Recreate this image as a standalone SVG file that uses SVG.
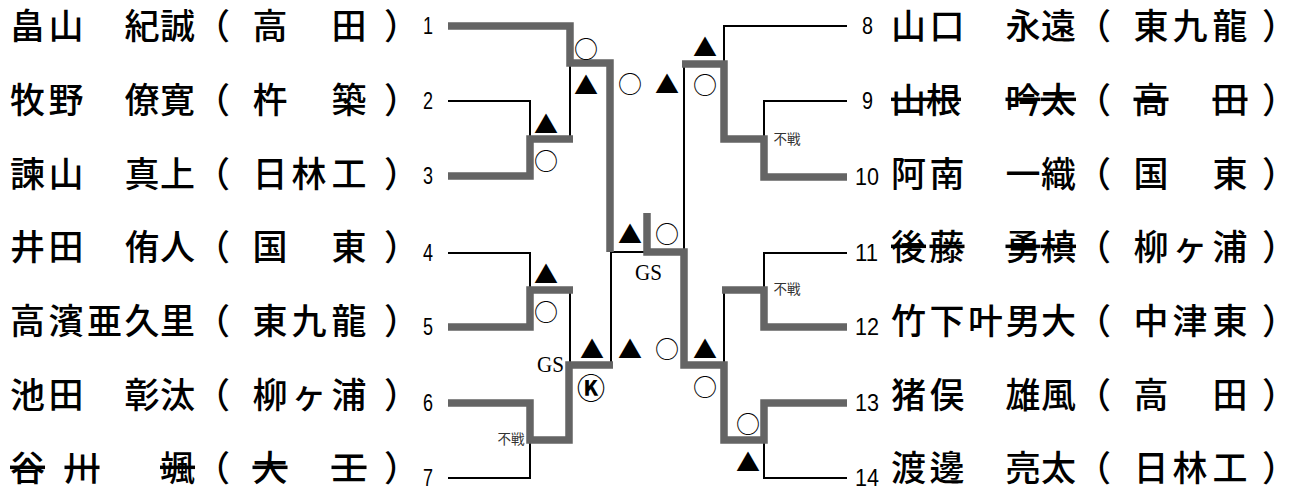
<svg xmlns="http://www.w3.org/2000/svg" width="1298" height="497" viewBox="0 0 1298 497">
<style>
.nm{font-family:"Noto Sans CJK JP","Noto Sans CJK SC",sans-serif;font-size:35px;font-weight:500;fill:#000}
.s{text-decoration:line-through}
.no{font-family:"Liberation Sans",Arial,sans-serif;font-size:23px;fill:#000}
.w{fill:none;stroke:#646464;stroke-width:7.5;stroke-linejoin:miter}
.l{fill:none;stroke:#000;stroke-width:2}
.mk{font-family:"Noto Sans CJK JP",sans-serif;font-size:24px;text-anchor:middle;dominant-baseline:central;fill:#000}
.gs{font-family:"Liberation Serif","Times New Roman",serif;font-size:23px;fill:#000}
.fs{font-family:"Noto Sans CJK JP",sans-serif;font-size:13.5px;fill:#333;text-anchor:middle}
</style>
<rect width="1298" height="497" fill="#fff"/>

<g id="connectors">
<path class="l" d="M448,101 H530 V139"/>
<path class="l" d="M570,139 V63"/>
<path class="l" d="M448,253 H530 V290"/>
<path class="l" d="M570,290 V365"/>
<path class="l" d="M448,478 H530 V440"/>
<path class="l" d="M611,365 V252 H647"/>
<path class="l" d="M847,26 H724 V64"/>
<path class="l" d="M684,64 V252"/>
<path class="l" d="M847,101 H764 V139"/>
<path class="l" d="M847,253 H764 V290"/>
<path class="l" d="M724,290 V365"/>
<path class="l" d="M847,478 H764 V440"/>
<path class="w" d="M448,26 H570 V63 H610 V252"/>
<path class="w" d="M448,176 H530 V139 H573"/>
<path class="w" d="M448,327 H530 V290 H573"/>
<path class="w" d="M448,403 H530 V440 H569 V365 H613"/>
<path class="w" d="M847,177 H764 V139 H724 V64 H682"/>
<path class="w" d="M847,327 H764 V290 H722"/>
<path class="w" d="M847,403 H764 V440 H724 V365 H684 V252 H647 V213"/>
</g>

<g id="p1"><text class="nm" y="39" x="10 48.5 87 124.5 160 195 252.5 291.5 331.5 384">畠山　紀誠（高　田）</text><text class="no" x="423" y="34" textLength="10" lengthAdjust="spacingAndGlyphs">1</text></g>
<g id="p2"><text class="nm" y="113" x="10 48.5 87 124.5 160 195 252.5 291.5 331.5 384">牧野　僚寛（杵　築）</text><text class="no" x="423" y="109" textLength="10" lengthAdjust="spacingAndGlyphs">2</text></g>
<g id="p3"><text class="nm" y="187" x="10 48.5 87 124.5 160 195 252.5 291.5 331.5 384">諫山　真上（日林工）</text><text class="no" x="423" y="184" textLength="10" lengthAdjust="spacingAndGlyphs">3</text></g>
<g id="p4"><text class="nm" y="260" x="10 48.5 87 124.5 160 195 252.5 291.5 331.5 384">井田　侑人（国　東）</text><text class="no" x="423" y="261" textLength="10" lengthAdjust="spacingAndGlyphs">4</text></g>
<g id="p5"><text class="nm" y="334" x="10 48.5 87 124.5 160 195 252.5 291.5 331.5 384">高濱亜久里（東九龍）</text><text class="no" x="423" y="335" textLength="10" lengthAdjust="spacingAndGlyphs">5</text></g>
<g id="p6"><text class="nm" y="408" x="10 48.5 87 124.5 160 195 252.5 291.5 331.5 384">池田　彰汰（柳ヶ浦）</text><text class="no" x="423" y="411" textLength="10" lengthAdjust="spacingAndGlyphs">6</text></g>
<g id="p7"><text class="nm" y="481"><tspan x="10" class="s">谷</tspan><tspan x="64.5" class="s">川</tspan><tspan x="160" class="s">颯</tspan><tspan x="195">（</tspan><tspan x="252.5" class="s">大</tspan><tspan x="331.5" class="s">工</tspan><tspan x="384">）</tspan></text><text class="no" x="423" y="486" textLength="10" lengthAdjust="spacingAndGlyphs">7</text></g>

<g id="p8"><text class="no" x="862" y="34" textLength="11" lengthAdjust="spacingAndGlyphs">8</text><text class="nm" y="39" x="891 929.5 968 1005.5 1041 1076 1133.5 1172.5 1212.5 1262">山口　永遠（東九龍）</text></g>
<g id="p9"><text class="no" x="862" y="109" textLength="11" lengthAdjust="spacingAndGlyphs">9</text><text class="nm" y="113"><tspan x="891" class="s">山根</tspan><tspan x="1005.5" class="s">吟</tspan><tspan x="1041" class="s">太</tspan><tspan x="1076">（</tspan><tspan x="1133.5" class="s">高</tspan><tspan x="1212.5" class="s">田</tspan><tspan x="1262">）</tspan></text></g>
<g id="p10"><text class="no" x="855" y="185" textLength="24" lengthAdjust="spacingAndGlyphs">10</text><text class="nm" y="187" x="891 929.5 968 1005.5 1041 1076 1133.5 1172.5 1212.5 1262">阿南　一織（国　東）</text></g>
<g id="p11"><text class="no" x="855" y="261" textLength="23" lengthAdjust="spacingAndGlyphs">11</text><text class="nm" y="260"><tspan x="891" class="s">後</tspan><tspan x="929.5" class="s">藤</tspan><tspan x="1005.5" class="s">勇</tspan><tspan x="1041" class="s">槙</tspan><tspan x="1076">（</tspan><tspan x="1133.5">柳</tspan><tspan x="1172.5">ヶ</tspan><tspan x="1212.5">浦</tspan><tspan x="1262">）</tspan></text></g>
<g id="p12"><text class="no" x="855" y="335" textLength="24" lengthAdjust="spacingAndGlyphs">12</text><text class="nm" y="334" x="891 929.5 968 1005.5 1041 1076 1133.5 1172.5 1212.5 1262">竹下叶男大（中津東）</text></g>
<g id="p13"><text class="no" x="855" y="411" textLength="24" lengthAdjust="spacingAndGlyphs">13</text><text class="nm" y="408" x="891 929.5 968 1005.5 1041 1076 1133.5 1172.5 1212.5 1262">猪俣　雄風（高　田）</text></g>
<g id="p14"><text class="no" x="855" y="486" textLength="24" lengthAdjust="spacingAndGlyphs">14</text><text class="nm" y="481" x="891 929.5 968 1005.5 1041 1076 1133.5 1172.5 1212.5 1262">渡邊　亮太（日林工）</text></g>

<g id="results">
<text class="mk" x="586" y="47">○</text>
<text class="mk" x="586" y="83">▲</text>
<text class="mk" x="546" y="122">▲</text>
<text class="mk" x="546" y="159">○</text>
<text class="mk" x="546" y="272">▲</text>
<text class="mk" x="546" y="310">○</text>
<text class="mk" x="592" y="347">▲</text>
<text class="mk" x="591" y="387" style="font-size:28px;font-weight:bold">Ⓚ</text>
<text class="mk" x="630" y="82">○</text>
<text class="mk" x="667" y="82">▲</text>
<text class="mk" x="630" y="232">▲</text>
<text class="mk" x="667" y="232">○</text>
<text class="mk" x="630" y="347">▲</text>
<text class="mk" x="667" y="347">○</text>
<text class="mk" x="705" y="45">▲</text>
<text class="mk" x="705" y="83">○</text>
<text class="mk" x="705" y="347">▲</text>
<text class="mk" x="705" y="385">○</text>
<text class="mk" x="748" y="422">○</text>
<text class="mk" x="748" y="460">▲</text>
<text class="gs" x="537" y="372" textLength="27" lengthAdjust="spacingAndGlyphs">GS</text>
<text class="gs" x="635" y="280" textLength="27" lengthAdjust="spacingAndGlyphs">GS</text>
<text class="fs" x="511" y="444">不戦</text>
<text class="fs" x="787" y="144">不戦</text>
<text class="fs" x="787" y="294">不戦</text>
</g>
</svg>
